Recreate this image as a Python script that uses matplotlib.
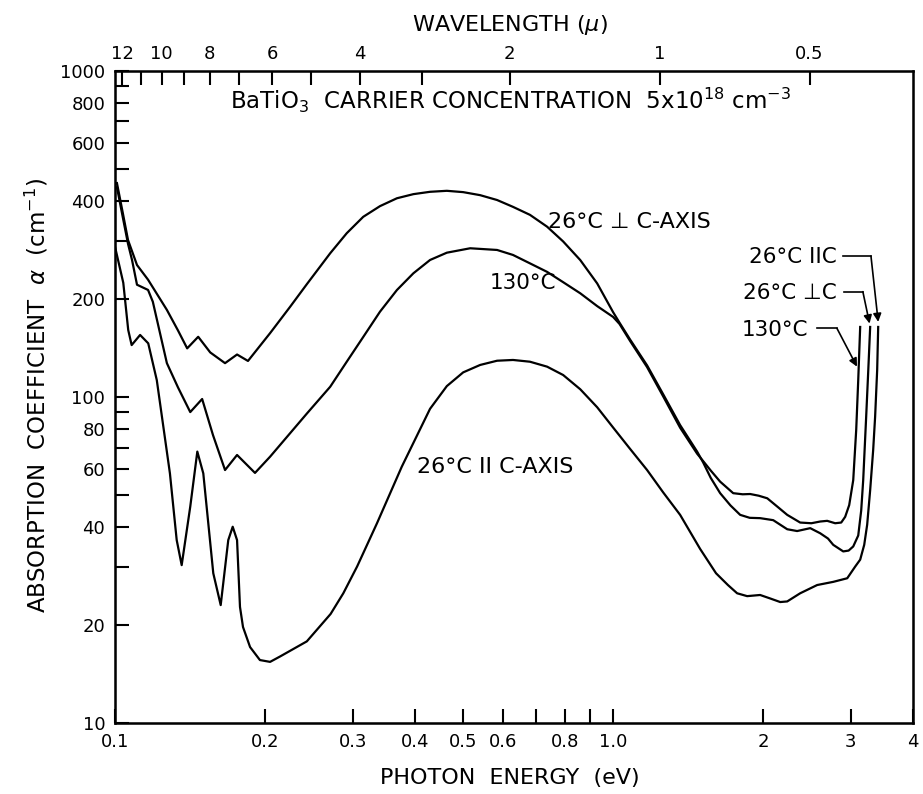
import matplotlib
matplotlib.use("Agg")
import matplotlib.pyplot as plt
from matplotlib.ticker import FixedLocator, NullFormatter

# photon energy (eV) and absorption coefficient (cm^-1)
perp_energy = [0.1009, 0.1037, 0.1062, 0.1107, 0.1165, 0.1271, 0.1338, 0.1396,
               0.1469, 0.1553, 0.1663, 0.1758, 0.1849, 0.2048, 0.2246, 0.2428,
               0.2704, 0.2919, 0.3150, 0.3404, 0.3681, 0.3972, 0.4290, 0.4636,
               0.5000, 0.5408, 0.5848, 0.6295, 0.6808, 0.7369, 0.7937, 0.8591,
               0.9290, 1.000, 1.030, 1.0817, 1.170, 1.260, 1.363, 1.4745,
               1.516, 1.570, 1.640, 1.720, 1.799, 1.880, 1.973, 2.096, 2.236,
               2.341, 2.487, 2.604, 2.700, 2.766, 2.897, 2.970, 3.034, 3.105,
               3.148, 3.177, 3.221, 3.251, 3.281]
perp_alpha = [453, 366, 303, 254, 229, 185, 160, 141,
              153, 137, 127, 135, 129, 157, 189, 222,
              276, 318, 357, 385, 407, 419, 426, 429,
              425, 416, 402, 383, 362, 333, 300, 263,
              223, 182, 169, 150, 125, 102, 82, 68,
              63.0, 56.5, 50.7, 46.5, 43.5, 42.6, 42.5, 41.9, 39.3,
              38.8, 39.6, 38.2, 36.8, 35.2, 33.6, 33.8, 34.8, 37.6,
              44.9, 55.6, 87.0, 119, 164]

hot_energy = [0.1009, 0.1037, 0.1062, 0.1082, 0.1107, 0.1165, 0.1191, 0.1271,
              0.1338, 0.1416, 0.1496, 0.1573, 0.1663, 0.1758, 0.1910, 0.2048,
              0.2246, 0.2428, 0.2704, 0.2919, 0.3150, 0.3404, 0.3681, 0.3972,
              0.4290, 0.4636, 0.5164, 0.5848, 0.6295, 0.6808, 0.7369, 0.7937,
              0.8591, 0.9290, 1.000, 1.030, 1.0817, 1.170, 1.260, 1.363,
              1.4745, 1.516, 1.570, 1.640, 1.742, 1.820, 1.884, 1.960, 2.039,
              2.140, 2.236, 2.374, 2.500, 2.604, 2.690, 2.791, 2.870, 2.923,
              2.978, 3.034, 3.076, 3.105, 3.133]
hot_alpha = [440, 355, 295, 263, 221, 213, 196, 127,
             107, 89.9, 98.6, 76.4, 59.7, 66.4, 58.5, 65.6,
             77.4, 89, 107.5, 128.3, 152.8, 182.7, 212.9, 239.6,
             263.2, 277.1, 285.9, 282.5, 272.7, 257, 242, 225,
             208, 190, 176, 167.5, 148.5, 123.5, 100.5, 80.5,
             67, 63.6, 59.5, 55.0, 50.7, 50.3, 50.4, 49.8, 48.9,
             46.0, 43.5, 41.2, 41.0, 41.5, 41.7, 41.0, 41.2, 42.9,
             46.6, 55.6, 79.3, 112.8, 164]

par_energy = [0.1000, 0.1039, 0.1063, 0.1080, 0.1123, 0.1166, 0.1213, 0.1289,
              0.1330, 0.1361, 0.1416, 0.1463, 0.1504, 0.1575, 0.1630, 0.1688,
              0.1723, 0.1758, 0.1782, 0.1807, 0.1867, 0.1954, 0.2048, 0.2145,
              0.2427, 0.2709, 0.2873, 0.3062, 0.3357, 0.3764, 0.4290,
              0.4636, 0.5000, 0.5408, 0.5848, 0.6295, 0.6808, 0.7369, 0.7937,
              0.8591, 0.9290, 1.000, 1.080, 1.170, 1.260, 1.363, 1.495, 1.609,
              1.700, 1.774, 1.858, 1.973, 2.067, 2.165, 2.236, 2.374, 2.568,
              2.766, 2.951, 3.062, 3.133, 3.192, 3.236, 3.281, 3.327, 3.357,
              3.389, 3.405]
par_alpha = [289, 224, 160.5, 144.3, 155, 146.1, 112.7, 58.3,
             36.4, 30.5, 46.1, 68.0, 58.3, 28.8, 23.0, 36.4,
             40.0, 36.4, 22.7, 19.7, 17.1, 15.6, 15.4, 16.0,
             17.8, 21.6, 25.0, 30.2, 41.0, 61.1, 92,
             108, 119, 125.4, 129.2, 129.9, 128.3, 123.9, 116.8,
             105.6, 93, 80.6, 69.5, 59.7, 51.0, 43.5, 34.2, 28.8,
             26.5, 25.0, 24.5, 24.7, 24.1, 23.5, 23.6, 25.0, 26.5,
             27.1, 27.8, 30.2, 31.7, 35.2, 40.6, 51.8, 68.8, 87.0,
             121, 164]

y_ticks = [10, 20, 30, 40, 50, 60, 70, 80, 90, 100, 200, 300, 400, 500,
           600, 700, 800, 900, 1000]
y_labels = ["10", "20", "", "40", "", "60", "", "80", "", "100", "200", "",
            "400", "", "600", "", "800", "", "1000"]
x_ticks = [0.1, 0.2, 0.3, 0.4, 0.5, 0.6, 0.7, 0.8, 0.9, 1.0, 2, 3, 4]
x_labels = ["0.1", "0.2", "0.3", "0.4", "0.5", "0.6", "", "0.8", "", "1.0",
            "2", "3", "4"]
wl_major = [12, 10, 8, 6, 4, 2, 1, 0.5]
wl_labels = ["12", "10", "8", "6", "4", "2", "1", "0.5"]
wl_minor = [11, 9, 7, 5, 3]

HC = 1.24  # eV * micron

fig = plt.figure(figsize=(9.23, 7.94), dpi=100)
ax = fig.add_axes([0.1246, 0.0894, 0.8646, 0.8212])

lw = 1.6
ax.plot(perp_energy, perp_alpha, color="black", lw=lw)
ax.plot(hot_energy, hot_alpha, color="black", lw=lw)
ax.plot(par_energy, par_alpha, color="black", lw=lw)

ax.set_xscale("log")
ax.set_yscale("log")
ax.set_xlim(0.1, 4)
ax.set_ylim(10, 1000)

ax.xaxis.set_major_locator(FixedLocator(x_ticks))
ax.set_xticklabels(x_labels)
ax.xaxis.set_minor_locator(FixedLocator([]))
ax.yaxis.set_major_locator(FixedLocator(y_ticks))
ax.set_yticklabels(y_labels)
ax.yaxis.set_minor_locator(FixedLocator([]))

ax.tick_params(axis="both", direction="in", length=10, width=1.5,
               labelsize=13, pad=7)
ax.tick_params(axis="x", top=False)
ax.tick_params(axis="y", right=False)
for s in ax.spines.values():
    s.set_linewidth(1.8)

ax.set_xlabel("PHOTON  ENERGY  (eV)", fontsize=16, va="center")
ax.xaxis.set_label_coords(0.495, -0.0844)
ax.set_ylabel(r"ABSORPTION  COEFFICIENT  $\alpha$  (cm$^{-1}$)", fontsize=16.5,
              va="center", ha="center")
ax.yaxis.set_label_coords(-0.0977, 0.503)

# wavelength axis on top
ax2 = ax.twiny()
ax2.set_xscale("log")
ax2.set_xlim(ax.get_xlim())
ax2.xaxis.set_major_locator(FixedLocator([HC / w for w in wl_major]))
ax2.set_xticklabels(wl_labels)
ax2.xaxis.set_minor_locator(FixedLocator([HC / w for w in wl_minor]))
ax2.xaxis.set_minor_formatter(NullFormatter())
ax2.tick_params(axis="x", which="both", direction="in", length=10, width=1.5,
                labelsize=13, pad=6)
ax2.set_xlabel(r"WAVELENGTH ($\mu$)", fontsize=16, va="center")
ax2.xaxis.set_label_coords(0.495, 1.0706)

# annotations
ax.text(0.144, 0.9555,
        r"BaTiO$_3$  CARRIER CONCENTRATION  5x10$^{18}$ cm$^{-3}$",
        transform=ax.transAxes, fontsize=16.5, va="center", ha="left")
ax.text(0.5426, 0.7684, "26°C \u22a5 C-AXIS", transform=ax.transAxes,
        fontsize=16, va="center", ha="left")
ax.text(0.470, 0.6748, "130°C", transform=ax.transAxes,
        fontsize=15.5, va="center", ha="left")
ax.text(0.3784, 0.3926, "26°C II C-AXIS", transform=ax.transAxes,
        fontsize=16, va="center", ha="left")

ax.text(0.9048, 0.7147, "26°C IIC", transform=ax.transAxes,
        fontsize=15.5, va="center", ha="right")
ax.text(0.9048, 0.6595, "26°C \u22a5C", transform=ax.transAxes,
        fontsize=15.5, va="center", ha="right")
ax.text(0.8684, 0.6028, "130°C", transform=ax.transAxes,
        fontsize=15.5, va="center", ha="right")

arrow_kw = dict(arrowstyle="-|>", color="black", lw=1.2,
                mutation_scale=12, shrinkA=0, shrinkB=0)
# (label end, corner, tip) in data coordinates
leaders = [
    ((2.896, 270.7), (3.293, 270.7), (3.405, 170)),
    ((2.901, 210.4), (3.172, 210.4), (3.272, 168)),
    ((2.564, 162.4), (2.814, 162.4), (3.087, 123.9)),
]
for start, corner, tip in leaders:
    ax.plot([start[0], corner[0]], [start[1], corner[1]], color="black",
            lw=1.2)
    ax.annotate("", xy=tip, xytext=corner, arrowprops=arrow_kw)

fig.savefig("out.png", dpi=100)
